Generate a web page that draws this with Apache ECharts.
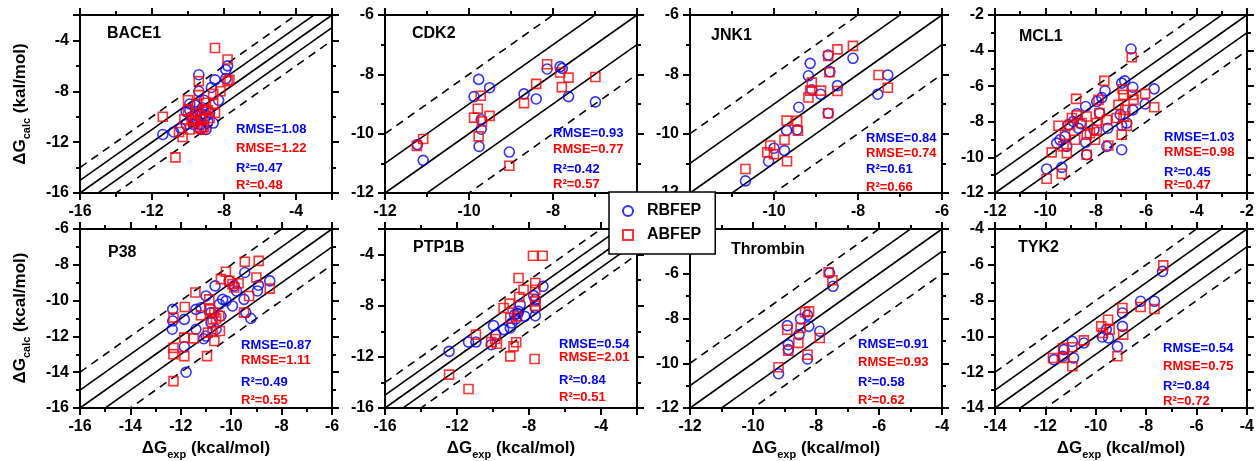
<!DOCTYPE html>
<html><head><meta charset="utf-8">
<script src="https://cdn.jsdelivr.net/npm/echarts@6/dist/echarts.min.js"></script>
<style>html,body{margin:0;padding:0;background:#fff}#c{width:1257px;height:461px}</style>
</head><body><div id="c"></div><script>
// ---------- data ----------
const panelNames = ['BACE1','CDK2','JNK1','MCL1','P38','PTP1B','Thrombin','TYK2'];
const axisMin = [-16,-12,-12,-12,-16,-16,-12,-14];
const axisMax = [-2,-6,-6,-2,-6,-2,-4,-4];
const majorStep = [4,2,2,2,2,4,2,2];
const rmseRB = [1.08,0.93,0.84,1.03,0.87,0.54,0.91,0.54];
const rmseAB = [1.22,0.77,0.74,0.98,1.11,2.01,0.93,0.75];
const r2RB = [0.47,0.42,0.61,0.45,0.49,0.84,0.58,0.84];
const r2AB = [0.48,0.57,0.66,0.47,0.55,0.51,0.62,0.72];
const lineOffsets = [-2,-1,0,1,2];
const legendNames = ['RBFEP','ABFEP'];

const rbBACE1 = [[-11.4,-11.4],[-10.8,-11.2],[-10.4,-10.9],[-10.1,-10.6],[-9.4,-6.7],[-8.5,-7.1],[-7.9,-6.3],[-7.8,-6.0],[-7.9,-7.0],[-9.4,-8.0],[-9.1,-8.7],[-8.7,-7.7],[-8.3,-8.7],[-9.9,-9.0],[-10.1,-9.6],[-9.5,-9.6],[-8.8,-9.7],[-8.6,-10.5],[-9.3,-11.0],[-9.0,-11.0],[-9.5,-10.3],[-9.8,-10.0],[-9.2,-9.3],[-9.0,-9.9],[-9.6,-9.1],[-9.3,-10.6],[-9.7,-10.6],[-8.9,-10.4],[-9.2,-9.8],[-9.9,-9.5]];
const abBACE1 = [[-8.5,-4.6],[-7.8,-5.5],[-9.4,-7.2],[-7.8,-7.2],[-7.7,-7.1],[-8.2,-8.0],[-8.6,-8.2],[-10.0,-8.7],[-9.5,-9.0],[-8.6,-9.0],[-11.4,-10.0],[-10.7,-13.2],[-10.3,-11.6],[-10.5,-11.2],[-10.0,-9.5],[-9.6,-9.7],[-9.1,-9.4],[-8.5,-9.7],[-9.2,-10.2],[-9.7,-10.5],[-9.9,-11.0],[-9.4,-10.9],[-8.8,-10.1],[-9.1,-10.8],[-10.2,-10.2],[-9.4,-8.3],[-9.0,-8.9],[-9.8,-10.1],[-9.3,-9.9],[-8.9,-9.5],[-9.6,-10.3],[-9.2,-11.0]];
const rbCDK2 = [[-11.23,-10.37],[-11.09,-10.9],[-9.77,-8.17],[-9.88,-8.75],[-9.51,-8.45],[-9.71,-9.53],[-9.71,-9.85],[-9.76,-10.43],[-9.04,-10.62],[-8.69,-8.66],[-8.4,-8.83],[-8.14,-7.82],[-7.83,-7.74],[-7.78,-7.8],[-7.63,-8.75],[-6.99,-8.93]];
const abCDK2 = [[-11.24,-10.41],[-11.09,-10.18],[-9.72,-8.72],[-9.79,-9.16],[-9.88,-9.46],[-9.69,-9.59],[-9.51,-9.4],[-9.77,-10.09],[-9.04,-11.08],[-8.69,-8.97],[-8.4,-8.32],[-8.14,-7.66],[-7.83,-7.94],[-7.63,-8.11],[-7.79,-8.43],[-6.99,-8.09]];
const rbJNK1 = [[-10.68,-11.59],[-10.13,-10.93],[-10.0,-10.49],[-9.75,-10.57],[-9.7,-9.89],[-9.45,-9.87],[-9.41,-9.11],[-9.14,-7.63],[-9.18,-8.05],[-9.1,-8.52],[-8.89,-8.67],[-8.71,-7.35],[-8.67,-7.91],[-8.71,-9.31],[-8.49,-8.38],[-8.12,-7.46],[-7.53,-8.67],[-7.29,-8.02]];
const abJNK1 = [[-10.68,-11.19],[-10.09,-10.4],[-10.16,-10.63],[-10.0,-10.69],[-9.75,-10.21],[-9.69,-10.93],[-9.7,-9.56],[-9.45,-9.57],[-9.43,-9.9],[-9.18,-8.78],[-9.1,-8.28],[-9.14,-8.55],[-8.88,-8.55],[-8.71,-7.38],[-8.68,-7.93],[-8.71,-9.31],[-8.49,-7.16],[-8.49,-8.56],[-8.12,-7.04],[-7.51,-8.02],[-7.29,-8.45]];
const rbMCL1 = [[-9.95,-10.65],[-9.35,-10.56],[-6.6,-3.91],[-6.85,-5.7],[-6.97,-5.83],[-6.53,-6.06],[-5.68,-6.15],[-6.04,-7.0],[-6.53,-7.33],[-7.63,-6.26],[-7.76,-6.64],[-7.96,-6.86],[-8.4,-7.14],[-7.85,-7.51],[-8.75,-7.55],[-8.89,-7.98],[-9.09,-8.17],[-8.69,-8.36],[-9.22,-8.82],[-9.42,-9.01],[-9.55,-9.2],[-9.15,-9.38],[-8.4,-9.16],[-8.36,-9.85],[-7.52,-8.36],[-7.56,-9.38],[-6.77,-8.07],[-6.97,-9.57],[-8.07,-8.45],[-7.03,-7.6],[-6.97,-8.2],[-8.6,-8.1]];
const abMCL1 = [[-9.95,-11.2],[-9.35,-10.92],[-6.57,-4.37],[-7.66,-5.7],[-8.78,-6.71],[-7.89,-6.77],[-6.93,-6.17],[-6.9,-6.49],[-6.53,-6.49],[-6.5,-6.77],[-6.04,-6.43],[-5.68,-7.18],[-7.1,-7.05],[-6.83,-7.33],[-7.17,-7.79],[-6.9,-7.7],[-6.77,-8.22],[-6.97,-8.73],[-7.5,-9.33],[-7.56,-7.89],[-7.85,-7.51],[-8.36,-7.7],[-8.75,-7.64],[-8.95,-7.79],[-8.56,-8.07],[-9.02,-8.17],[-9.48,-8.22],[-9.22,-8.73],[-8.82,-9.01],[-8.23,-8.64],[-8.36,-8.73],[-8.03,-9.01],[-9.28,-9.38],[-9.15,-9.76],[-9.75,-9.72],[-8.36,-9.85],[-7.96,-8.45],[-7.96,-8.07]];
const rbP38 = [[-12.32,-10.49],[-12.32,-11.14],[-12.34,-11.6],[-11.86,-11.05],[-11.86,-12.58],[-11.79,-14.0],[-11.4,-10.49],[-11.4,-11.6],[-11.2,-10.4],[-11.0,-11.98],[-11.09,-12.13],[-10.8,-11.23],[-10.64,-9.18],[-10.47,-10.2],[-10.34,-9.93],[-10.41,-10.86],[-10.6,-11.6],[-10.2,-10.02],[-9.95,-10.3],[-10.08,-8.9],[-9.88,-9.18],[-9.79,-9.46],[-9.49,-9.93],[-9.46,-8.43],[-9.42,-10.67],[-9.22,-11.0],[-8.96,-9.46],[-8.92,-9.14],[-8.47,-8.9],[-10.8,-10.67],[-11.0,-9.74]];
const abP38 = [[-12.29,-14.5],[-12.29,-13.0],[-12.29,-12.64],[-12.29,-10.95],[-11.84,-10.36],[-11.86,-12.07],[-11.86,-13.1],[-11.42,-9.55],[-11.49,-12.11],[-11.2,-10.82],[-10.96,-13.1],[-10.87,-10.49],[-10.87,-9.93],[-10.93,-11.79],[-10.74,-11.7],[-10.67,-12.26],[-10.67,-10.67],[-10.74,-11.05],[-10.47,-10.86],[-10.45,-11.7],[-10.41,-8.8],[-10.21,-8.39],[-10.08,-8.9],[-9.95,-9.08],[-9.71,-9.03],[-9.88,-9.27],[-9.46,-7.83],[-9.29,-9.74],[-9.49,-10.67],[-9.0,-8.71],[-8.91,-7.78],[-8.47,-9.33],[-10.6,-11.0]];
const rbPTP1B = [[-12.44,-11.57],[-11.36,-10.84],[-10.95,-10.84],[-10.1,-11.05],[-9.97,-9.56],[-9.84,-10.26],[-9.41,-9.87],[-9.04,-9.74],[-8.95,-9.35],[-8.73,-9.04],[-8.62,-8.62],[-8.58,-8.44],[-8.49,-7.92],[-8.24,-8.83],[-7.74,-7.21],[-7.65,-7.53],[-7.65,-8.18],[-7.65,-8.78],[-7.22,-6.48],[-8.8,-8.7]];
const abPTP1B = [[-12.44,-13.39],[-11.36,-14.51],[-10.95,-10.26],[-10.1,-10.84],[-9.88,-10.6],[-9.78,-10.97],[-9.41,-8.18],[-9.08,-7.84],[-9.04,-8.96],[-9.04,-11.96],[-8.86,-11.18],[-8.71,-10.86],[-8.58,-5.83],[-8.54,-7.32],[-8.67,-8.83],[-8.3,-6.75],[-7.78,-4.09],[-7.24,-4.09],[-7.65,-6.22],[-7.65,-6.75],[-7.65,-7.66],[-7.65,-8.0],[-7.69,-12.17]];
const rbThrombin = [[-9.19,-10.47],[-8.91,-8.32],[-8.88,-9.17],[-8.88,-9.39],[-8.49,-8.02],[-8.54,-8.72],[-8.27,-7.85],[-8.23,-8.35],[-8.27,-9.81],[-7.88,-8.57],[-7.57,-5.96],[-7.46,-6.56]];
const abThrombin = [[-9.19,-10.18],[-8.91,-8.5],[-8.88,-9.44],[-8.56,-9.09],[-8.49,-8.42],[-8.35,-7.72],[-8.22,-7.68],[-8.27,-9.62],[-7.88,-8.87],[-7.6,-5.93],[-7.48,-6.29]];
const rbTYK2 = [[-11.66,-11.3],[-11.3,-11.11],[-11.26,-10.74],[-10.93,-10.28],[-10.88,-11.21],[-10.47,-10.37],[-9.74,-10.03],[-9.49,-10.09],[-9.58,-9.62],[-9.14,-10.56],[-8.94,-8.69],[-8.94,-9.44],[-8.22,-8.04],[-7.67,-8.04],[-7.35,-6.37]];
const abTYK2 = [[-11.7,-11.21],[-11.3,-10.65],[-11.26,-11.21],[-10.93,-10.61],[-10.93,-11.67],[-10.47,-10.22],[-9.78,-9.44],[-9.71,-9.81],[-9.51,-9.07],[-9.45,-9.62],[-9.14,-11.11],[-8.94,-8.41],[-8.91,-9.9],[-8.22,-8.36],[-7.67,-8.47],[-7.32,-6.03]];

const rbData = [rbBACE1, rbCDK2, rbJNK1, rbMCL1, rbP38, rbPTP1B, rbThrombin, rbTYK2];
const abData = [abBACE1, abCDK2, abJNK1, abMCL1, abP38, abPTP1B, abThrombin, abTYK2];

// ---------- layout ----------
const FONT = "'Liberation Sans', Arial, Helvetica, sans-serif";
const BLUE = '#0000ff', RED = '#ff0000';
const gridLefts = [80, 385, 690, 995];
const gridTops = [15, 229];
const gridW = 252, gridHs = [178, 179];
const titleOff = [[27,19],[27,19],[21,21],[24,22],[28,24],[28,19],[41,21],[23,19]];
const statDX = [156,168,176,169,161,174,168,168];
const statDY = [[114,133,153,170],[118,134,154,169],[123,138,154,172],[122,137,157,170],[116,131,153,171],[115,128,151,168],[115,133,153,171],[119,137,157,172]];

const grids = [], xAxes = [], yAxes = [], series = [], graphics = [];

function txt(x, y, text, color, size, extra) {
  return Object.assign({type:'text', x:x, y:y, silent:true, z:50,
    style:{text:text, fill:color, font:'bold '+size+'px '+FONT, align:'left', verticalAlign:'middle'}}, extra||{});
}

panelNames.forEach((nm, i) => {
  const col = i % 4, row = Math.floor(i / 4);
  const L = gridLefts[col], T = gridTops[row], W = gridW, H = gridHs[row];
  grids.push({left:L, top:T, width:W, height:H, show:false, containLabel:false});
  const mn = axisMin[i], mx = axisMax[i], st = majorStep[i];
  const base = {
    type:'value', gridIndex:i, min:mn, max:mx, interval:st, scale:false,
    splitLine:{show:false}, minorSplitLine:{show:false},
    axisLine:{show:true, onZero:false, lineStyle:{color:'#000', width:2}},
    axisTick:{show:true, inside:false, length:7, lineStyle:{color:'#000', width:2}},
    minorTick:{show:true, splitNumber:2, length:4, lineStyle:{color:'#000', width:2}}
  };
  const lab = {show:true, color:'#000', fontFamily:FONT, fontWeight:'bold', fontSize:16, margin:11,
    formatter: v => { const k = (v - mn) / st; return Math.abs(k - Math.round(k)) < 1e-6 ? String(Math.round(v)) : ''; },
    showMinLabel:true, showMaxLabel:true};
  xAxes.push(Object.assign({}, base, {position:'bottom', axisLabel:lab}));
  xAxes.push(Object.assign({}, base, {position:'top', axisLabel:{show:false}}));
  yAxes.push(Object.assign({}, base, {position:'left', axisLabel:lab}));
  yAxes.push(Object.assign({}, base, {position:'right', axisLabel:{show:false}}));

  lineOffsets.forEach(off => {
    series.push({type:'line', xAxisIndex:2*i, yAxisIndex:2*i, data:[[mn, mn+off],[mx, mx+off]],
      symbol:'none', silent:true, clip:true, z:2,
      lineStyle:{color:'#000', width:1.6, type: Math.abs(off) === 2 ? [8,6] : 'solid'}});
  });
  series.push({type:'scatter', name:legendNames[0], xAxisIndex:2*i, yAxisIndex:2*i, data:rbData[i],
    symbol:'circle', symbolSize:10, z:3,
    itemStyle:{color:'rgba(255,255,255,0)', borderColor:BLUE, borderWidth:1.6}});
  series.push({type:'scatter', name:legendNames[1], xAxisIndex:2*i, yAxisIndex:2*i, data:abData[i],
    symbol:'rect', symbolSize:9, z:4,
    itemStyle:{color:'rgba(255,255,255,0)', borderColor:RED, borderWidth:1.6}});

  graphics.push(txt(L + titleOff[i][0], T + titleOff[i][1], nm, '#000', 16));
  const sx = L + statDX[i], sy = statDY[i];
  graphics.push(txt(sx, T + sy[0], 'RMSE=' + rmseRB[i].toFixed(2), BLUE, 13));
  graphics.push(txt(sx, T + sy[1], 'RMSE=' + rmseAB[i].toFixed(2), RED, 13));
  graphics.push(txt(sx, T + sy[2], 'R\u00B2=' + r2RB[i].toFixed(2), BLUE, 13));
  graphics.push(txt(sx, T + sy[3], 'R\u00B2=' + r2AB[i].toFixed(2), RED, 13));
});

// axis names
const richName = {
  m:{fontFamily:FONT, fontWeight:'bold', fontSize:17, color:'#000', lineHeight:20, verticalAlign:'top'},
  s:{fontFamily:FONT, fontWeight:'bold', fontSize:11, color:'#000', lineHeight:11, verticalAlign:'bottom', padding:[9,0,0,0]}
};
function nameText(x, y, parts, rot) {
  return {type:'text', x:x, y:y, rotation:rot, silent:true, z:50,
    style:{text:'{m|' + parts[0] + '}{s|' + parts[1] + '}{m|' + parts[2] + '}', rich:richName, align:'center', verticalAlign:'middle'}};
}
graphics.push(nameText(22, 104, ['\u0394G','calc',' (kal/mol)'], Math.PI/2));
graphics.push(nameText(22, 318, ['\u0394G','calc',' (kcal/mol)'], Math.PI/2));
gridLefts.forEach(l => graphics.push(nameText(l + gridW/2, 450, ['\u0394G','exp',' (kcal/mol)'], 0)));

const chart = echarts.init(document.getElementById('c'), null, {renderer:'canvas'});
chart.setOption({
  animation:false,
  backgroundColor:'#fff',
  grid:grids, xAxis:xAxes, yAxis:yAxes, series:series,
  legend:{data:legendNames, orient:'vertical', left:609, top:192, padding:[11,14,11,13],
    itemWidth:10, itemHeight:10, itemGap:8, selectedMode:false,
    backgroundColor:'#fff', borderColor:'#000', borderWidth:1.5, z:20,
    textStyle:{fontFamily:FONT, fontWeight:'bold', fontSize:16, color:'#000', padding:[0,0,0,9]}},
  graphic:{elements:graphics}
});
</script></body></html>
